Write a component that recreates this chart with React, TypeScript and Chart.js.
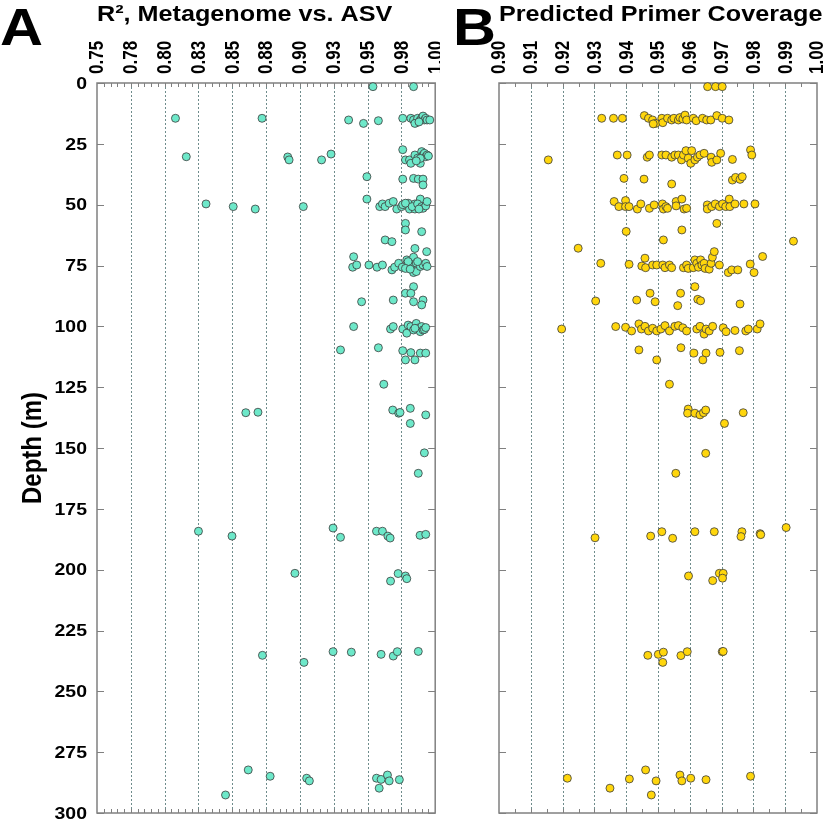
import React, { useEffect, useRef } from 'react';
import { Chart, registerables } from 'chart.js';

Chart.register(...registerables);

// ---------- axis definitions ----------
const depthTicks = [0, 25, 50, 75, 100, 125, 150, 175, 200, 225, 250, 275, 300];
const depthTickLabels = ['0', '25', '50', '75', '100', '125', '150', '175', '200', '225', '250', '275', '300'];

const r2TickValues = [0.75, 0.775, 0.8, 0.825, 0.85, 0.875, 0.9, 0.925, 0.95, 0.975, 1.0];
const r2TickLabels = ['0.75', '0.78', '0.80', '0.83', '0.85', '0.88', '0.90', '0.93', '0.95', '0.98', '1.00'];

const coverageTickValues = [0.9, 0.91, 0.92, 0.93, 0.94, 0.95, 0.96, 0.97, 0.98, 0.99, 1.0];
const coverageTickLabels = ['0.90', '0.91', '0.92', '0.93', '0.94', '0.95', '0.96', '0.97', '0.98', '0.99', '1.00'];

// ---------- panel A : R², Metagenome vs. ASV ----------
const r2Values = [
  0.954, 0.984,
  0.808, 0.872, 0.936, 0.947, 0.958, 0.976, 0.982, 0.984, 0.986, 0.987, 0.989, 0.990, 0.991, 0.992, 0.993, 0.994, 0.996, 0.985, 0.988,
  0.816, 0.891, 0.892, 0.916, 0.923, 0.976, 0.978, 0.981, 0.982, 0.985, 0.987, 0.989, 0.990, 0.991, 0.992, 0.993, 0.994, 0.995, 0.989, 0.986,
  0.9495, 0.976, 0.984, 0.9875, 0.991, 0.991,
  0.9495, 0.989,
  0.8306, 0.8507, 0.867, 0.9025, 0.959, 0.961, 0.963, 0.966, 0.969, 0.9716, 0.9752, 0.980, 0.981, 0.985, 0.985, 0.976, 0.978, 0.983, 0.987, 0.990, 0.991, 0.993, 0.994, 0.988,
  0.978, 0.978, 0.990, 0.963, 0.968, 0.985, 0.9937, 0.9397,
  0.939, 0.942, 0.951, 0.957, 0.961, 0.968, 0.970, 0.973, 0.9757, 0.979, 0.9826, 0.984, 0.984, 0.986, 0.980, 0.986, 0.989, 0.991, 0.993, 0.994, 0.987, 0.978, 0.9815,
  0.984, 0.978, 0.982, 0.9456, 0.969, 0.984, 0.991, 0.990,
  0.9397, 0.967, 0.969, 0.976, 0.979, 0.980, 0.982, 0.984, 0.986, 0.987, 0.989, 0.990, 0.991, 0.992, 0.985, 0.993,
  0.930, 0.958, 0.976, 0.982, 0.978, 0.985, 0.989, 0.993,
  0.962,
  0.860, 0.869, 0.9686, 0.973, 0.974, 0.9816, 0.993, 0.9816,
  0.992, 0.9875,
  0.825, 0.8498, 0.9245, 0.930, 0.9566, 0.961, 0.965, 0.9667, 0.9888, 0.993,
  0.8963, 0.967, 0.9726, 0.978, 0.979,
  0.8723, 0.903, 0.9245, 0.938, 0.960, 0.969, 0.972, 0.9875,
  0.8618, 0.878, 0.845, 0.905, 0.907, 0.9566, 0.9586, 0.960, 0.9647, 0.966, 0.9735,
];
const r2Depths = [
  1.5, 1.5,
  14.5, 14.5, 15.2, 16.6, 15.5, 14.5, 14.5, 15.2, 16.3, 14.5, 15.2, 14.5, 13.6, 15.2, 14.5, 15.2, 15.2, 16.6, 16.0,
  30.3, 30.4, 31.6, 31.6, 29.2, 27.4, 31.6, 31.6, 33.0, 29.6, 30.9, 33.0, 28.2, 29.6, 28.9, 30.3, 29.6, 30.0, 31.0, 32.0,
  38.5, 39.5, 39.2, 39.5, 39.5, 41.9,
  47.7, 47.7,
  49.7, 50.8, 51.8, 50.8, 50.8, 49.7, 50.8, 49.4, 48.7, 51.8, 50.8, 49.4, 51.8, 49.7, 51.8, 50.0, 49.4, 50.8, 49.7, 50.8, 51.5, 50.5, 48.7, 51.8,
  57.7, 60.4, 61.1, 64.5, 65.2, 68.0, 69.3, 71.4,
  75.7, 74.8, 74.8, 75.7, 74.8, 76.8, 75.7, 74.1, 75.7, 72.7, 74.8, 71.6, 77.9, 74.0, 73.4, 77.5, 75.4, 74.8, 74.1, 75.4, 73.4, 76.2, 76.5,
  83.7, 86.4, 86.4, 89.9, 89.2, 89.9, 89.2, 91.2,
  100.1, 101.1, 100.1, 101.1, 102.8, 99.5, 100.1, 101.5, 98.8, 100.8, 102.2, 100.1, 101.5, 101.3, 100.8, 100.5,
  109.7, 108.8, 110.0, 110.8, 113.8, 113.8, 111.0, 111.0,
  123.8,
  135.5, 135.3, 134.4, 135.7, 135.4, 133.7, 136.4, 139.9,
  152.0, 160.4,
  184.2, 186.2, 182.9, 186.7, 184.2, 184.2, 186.2, 187.0, 185.9, 185.5,
  201.5, 204.7, 201.6, 202.6, 203.7,
  235.2, 238.1, 233.7, 233.9, 234.8, 235.5, 233.7, 233.6,
  282.3, 284.9, 292.6, 285.7, 286.8, 285.7, 289.8, 286.2, 284.4, 286.8, 286.3,
];

// ---------- panel B : Predicted Primer Coverage ----------
const coverageValues = [
  0.9656, 0.9681, 0.9702,
  0.9323, 0.936, 0.9388, 0.9457, 0.947, 0.9483, 0.9493, 0.9512, 0.9515, 0.953, 0.9543, 0.955, 0.9564, 0.9569, 0.9578, 0.9585, 0.959, 0.9611, 0.962, 0.964, 0.9653, 0.9666, 0.9685, 0.9702, 0.9723, 0.9485,
  0.9155, 0.9372, 0.9403, 0.9466, 0.9473, 0.9512, 0.9525, 0.9543, 0.9553, 0.9564, 0.9574, 0.958, 0.9588, 0.9595, 0.9603, 0.9606, 0.9616, 0.9624, 0.9632, 0.9645, 0.9667, 0.9669, 0.9685, 0.9697, 0.9734, 0.9791, 0.9795,
  0.9393, 0.9456, 0.9543, 0.9734, 0.9744, 0.9758, 0.9765,
  0.9362, 0.9377, 0.9398, 0.9398, 0.9409, 0.9435, 0.9446, 0.9473, 0.9488, 0.9514, 0.9517, 0.9525, 0.953, 0.9557, 0.9557, 0.9575, 0.9582, 0.959, 0.9655, 0.9655, 0.9669, 0.968, 0.9693, 0.9703, 0.9713, 0.9724, 0.9726, 0.9742, 0.977, 0.9805,
  0.9685, 0.94, 0.9575, 0.9517, 0.9249, 0.9926,
  0.932, 0.9409, 0.9449, 0.9459, 0.9461, 0.9483, 0.9496, 0.9515, 0.9522, 0.9536, 0.9543, 0.958, 0.959, 0.9595, 0.9611, 0.9616, 0.9622, 0.9627, 0.9634, 0.9638, 0.9645, 0.9648, 0.9661, 0.9667, 0.9671, 0.9677, 0.9693, 0.9721, 0.9732, 0.9751, 0.979, 0.9802, 0.9829,
  0.9616, 0.9475, 0.9571, 0.9304, 0.9433, 0.9491, 0.9625, 0.9634, 0.9562, 0.9758,
  0.9197, 0.9367, 0.9398, 0.9417, 0.944, 0.9448, 0.9459, 0.947, 0.9483, 0.9496, 0.9509, 0.9522, 0.9536, 0.9553, 0.9564, 0.9578, 0.959, 0.9622, 0.9632, 0.9645, 0.9651, 0.9661, 0.9672, 0.9705, 0.9714, 0.9742, 0.9776, 0.9784, 0.9812, 0.9821,
  0.944, 0.9572, 0.9613, 0.9651, 0.9695, 0.9756, 0.9496, 0.9641,
  0.9536,
  0.9595, 0.9593, 0.9616, 0.9632, 0.9643, 0.965, 0.9768, 0.9709,
  0.965, 0.9556,
  0.9302, 0.9477, 0.9512, 0.9546, 0.9616, 0.9677, 0.9764, 0.9761, 0.9821, 0.9823, 0.9903,
  0.9596, 0.9693, 0.9705, 0.9703, 0.9672,
  0.9468, 0.9501, 0.9517, 0.9515, 0.9572, 0.9592, 0.9702, 0.9705,
  0.9215, 0.9349, 0.941, 0.9461, 0.9494, 0.9479, 0.9569, 0.9575, 0.9603, 0.9651, 0.9791,
];
const coverageDepths = [
  1.5, 1.5, 1.5,
  14.5, 14.5, 14.5, 13.4, 14.5, 15.2, 16.6, 14.5, 16.3, 14.5, 15.2, 14.5, 15.2, 14.2, 14.8, 13.2, 15.2, 14.5, 15.5, 14.5, 15.2, 15.2, 13.4, 14.5, 15.2, 16.8,
  31.6, 29.6, 29.6, 30.5, 29.6, 29.6, 29.6, 30.5, 29.6, 29.6, 31.6, 29.6, 27.8, 30.9, 33.0, 27.8, 31.6, 30.5, 29.6, 28.9, 30.5, 32.6, 31.6, 28.9, 31.4, 27.5, 29.6,
  39.2, 39.5, 41.5, 39.9, 38.8, 39.6, 38.5,
  48.7, 50.8, 48.3, 50.8, 50.8, 51.8, 49.7, 51.5, 50.1, 49.7, 51.8, 50.8, 51.5, 48.7, 50.5, 47.7, 51.8, 51.5, 50.1, 51.8, 50.8, 49.7, 50.8, 49.7, 50.8, 47.7, 50.8, 49.7, 49.7, 49.7,
  57.7, 61.0, 60.4, 64.5, 67.9, 65.0,
  74.1, 74.5, 75.2, 72.0, 75.9, 74.8, 74.8, 74.8, 75.9, 74.8, 75.9, 75.9, 74.8, 76.2, 75.9, 72.7, 74.1, 75.7, 72.7, 74.8, 74.1, 76.2, 76.5, 74.1, 71.6, 69.3, 74.8, 77.9, 76.8, 76.8, 74.4, 77.9, 71.3,
  83.7, 86.4, 86.4, 89.6, 89.2, 89.9, 88.9, 89.5, 91.5, 90.8,
  101.1, 100.1, 100.4, 101.9, 99.0, 101.1, 100.0, 101.9, 100.8, 101.9, 101.1, 99.7, 101.9, 100.0, 99.7, 100.6, 101.9, 101.1, 100.0, 103.2, 101.1, 101.9, 100.0, 100.6, 102.2, 101.7, 101.9, 101.1, 101.1, 99.0,
  109.7, 108.8, 111.0, 111.0, 110.7, 110.0, 113.8, 113.8,
  123.8,
  134.0, 135.7, 135.7, 136.4, 135.5, 134.4, 135.5, 139.9,
  152.2, 160.4,
  186.9, 186.2, 184.4, 187.1, 184.4, 184.4, 184.4, 186.4, 185.2, 185.6, 182.7,
  202.6, 201.5, 201.5, 203.5, 204.5,
  235.2, 234.8, 233.9, 238.1, 235.3, 233.7, 233.7, 233.6,
  285.7, 289.8, 286.0, 282.3, 286.8, 292.6, 284.4, 286.8, 285.7, 286.3, 284.9,
];

const FONT = '"Liberation Sans", Arial, Helvetica, sans-serif';
const STRETCH = 1.145; // the reference lettering is slightly wider than tall

function drawText(
  ctx: CanvasRenderingContext2D,
  text: string,
  x: number,
  y: number,
  font: string,
  align: CanvasTextAlign,
  baseline: CanvasTextBaseline,
  rotation: number
) {
  ctx.save();
  ctx.translate(x, y);
  ctx.scale(STRETCH, 1);
  ctx.rotate(rotation);
  ctx.font = font;
  ctx.textAlign = align;
  ctx.textBaseline = baseline;
  ctx.fillStyle = '#000';
  ctx.fillText(text, 0, 0);
  ctx.restore();
}

const panelPlugin = {
  id: 'panelDecor',
  beforeDatasetsDraw(chart: any, _args: any, opts: any) {
    const { ctx, chartArea } = chart;
    const { left, right, top, bottom } = chartArea;
    const x = chart.scales.x;
    const y = chart.scales.y;
    ctx.save();
    // dashed vertical grid lines
    ctx.strokeStyle = opts.gridColor;
    ctx.lineWidth = 1;
    ctx.setLineDash([2, 2]);
    for (const v of opts.gridValues) {
      const px = Math.round(x.getPixelForValue(v)) + 0.5;
      if (px <= left + 2 || px >= right - 2) continue;
      ctx.beginPath();
      ctx.moveTo(px, top);
      ctx.lineTo(px, bottom);
      ctx.stroke();
    }
    ctx.setLineDash([]);
    // frame
    ctx.strokeStyle = '#808080';
    ctx.lineWidth = 1.5;
    ctx.strokeRect(left, top, right - left, bottom - top);
    // minor ticks top & bottom
    ctx.lineWidth = 1;
    const n = Math.round((opts.max - opts.min) / opts.minorStep);
    for (let i = 1; i < n; i++) {
      const px = Math.round(x.getPixelForValue(opts.min + i * opts.minorStep)) + 0.5;
      ctx.beginPath();
      ctx.moveTo(px, top);
      ctx.lineTo(px, top + 4);
      ctx.moveTo(px, bottom);
      ctx.lineTo(px, bottom - 4);
      ctx.stroke();
    }
    // major depth ticks left & right
    for (const d of depthTicks) {
      const py = Math.round(y.getPixelForValue(d)) + 0.5;
      ctx.beginPath();
      ctx.moveTo(left, py);
      ctx.lineTo(left + 7, py);
      ctx.moveTo(right, py);
      ctx.lineTo(right - 7, py);
      ctx.stroke();
    }
    ctx.restore();
  },
  afterDraw(chart: any, _args: any, opts: any) {
    const { ctx, chartArea } = chart;
    const x = chart.scales.x;
    const y = chart.scales.y;
    // panel title and letter
    drawText(ctx, opts.title, chartArea.left, 21, `bold 22px ${FONT}`, 'left', 'alphabetic', 0);
    drawText(ctx, opts.letter, opts.letterX, 45, `bold 52px ${FONT}`, 'left', 'alphabetic', 0);
    // top tick labels, rotated
    opts.tickValues.forEach((v: number, i: number) => {
      const px = x.getPixelForValue(v);
      drawText(ctx, opts.tickLabels[i], px + 1, chartArea.top - 9, `bold 17px ${FONT}`, 'left', 'middle', -Math.PI / 2);
    });
    if (opts.showDepthLabels) {
      depthTicks.forEach((d, i) => {
        const py = y.getPixelForValue(d);
        drawText(ctx, depthTickLabels[i], chartArea.left - 10, py + 1, `bold 17px ${FONT}`, 'right', 'middle', 0);
      });
      drawText(ctx, 'Depth (m)', 33, (chartArea.top + chartArea.bottom) / 2, `bold 24px ${FONT}`, 'center', 'middle', -Math.PI / 2);
    }
  },
};

function buildConfig(p: {
  values: number[];
  depths: number[];
  tickValues: number[];
  tickLabels: string[];
  min: number;
  max: number;
  minorStep: number;
  fill: string;
  yWidth: number;
  padRight: number;
  showDepthLabels: boolean;
  title: string;
  letter: string;
  letterX: number;
}): any {
  const data = p.values.map((v, i) => ({ x: v, y: p.depths[i] }));
  return {
    type: 'scatter',
    data: {
      datasets: [
        {
          data,
          backgroundColor: p.fill,
          borderColor: '#3c3c3c',
          borderWidth: 0.8,
          pointRadius: 4,
          pointHoverRadius: 4,
          clip: false,
        },
      ],
    },
    options: {
      animation: false,
      responsive: false,
      maintainAspectRatio: false,
      events: [],
      layout: { padding: { left: 0, right: p.padRight, top: 0, bottom: 10 } },
      plugins: {
        legend: { display: false },
        tooltip: { enabled: false },
        title: { display: false },
        panelDecor: {
          gridValues: p.tickValues,
          tickValues: p.tickValues,
          tickLabels: p.tickLabels,
          gridColor: '#6f8c8c',
          min: p.min,
          max: p.max,
          minorStep: p.minorStep,
          title: p.title,
          letter: p.letter,
          letterX: p.letterX,
          showDepthLabels: p.showDepthLabels,
        },
      },
      scales: {
        x: {
          type: 'linear',
          position: 'top',
          min: p.min,
          max: p.max,
          grid: { display: false, drawTicks: false },
          border: { display: false },
          afterBuildTicks: (s: any) => {
            s.ticks = p.tickValues.map((v) => ({ value: v }));
          },
          afterFit: (s: any) => {
            s.height = 83;
            s.paddingLeft = 0;
            s.paddingRight = 0;
          },
          ticks: { display: false },
        },
        y: {
          type: 'linear',
          position: 'left',
          reverse: true,
          min: 0,
          max: 300,
          grid: { display: false, drawTicks: false },
          border: { display: false },
          afterBuildTicks: (s: any) => {
            s.ticks = depthTicks.map((v) => ({ value: v }));
          },
          afterFit: (s: any) => {
            s.width = p.yWidth;
            s.paddingTop = 0;
            s.paddingBottom = 0;
          },
          ticks: { display: false },
          title: { display: false },
        },
      },
    },
    plugins: [panelPlugin],
  };
}

export default function App() {
  const refA = useRef<HTMLCanvasElement | null>(null);
  const refB = useRef<HTMLCanvasElement | null>(null);

  useEffect(() => {
    const chartA = new Chart(
      refA.current as HTMLCanvasElement,
      buildConfig({
        values: r2Values,
        depths: r2Depths,
        tickValues: r2TickValues,
        tickLabels: r2TickLabels,
        min: 0.75,
        max: 1.0,
        minorStep: 0.005,
        fill: '#6de8c9',
        yWidth: 97,
        padRight: 3,
        showDepthLabels: true,
        title: 'R², Metagenome vs. ASV',
        letter: 'A',
        letterX: 0,
      })
    );
    const chartB = new Chart(
      refB.current as HTMLCanvasElement,
      buildConfig({
        values: coverageValues,
        depths: coverageDepths,
        tickValues: coverageTickValues,
        tickLabels: coverageTickLabels,
        min: 0.9,
        max: 1.0,
        minorStep: 0.005,
        fill: '#ffd60c',
        yWidth: 59,
        padRight: 13,
        showDepthLabels: false,
        title: 'Predicted Primer Coverage',
        letter: 'B',
        letterX: 13,
      })
    );
    return () => {
      chartA.destroy();
      chartB.destroy();
    };
  }, []);

  return (
    <div style={{ position: 'fixed', left: 0, top: 0, width: 830, height: 823, background: '#fff' }}>
      <canvas ref={refA} width={440} height={823} style={{ position: 'absolute', left: 0, top: 0, width: 440, height: 823 }} />
      <canvas ref={refB} width={390} height={823} style={{ position: 'absolute', left: 440, top: 0, width: 390, height: 823 }} />
    </div>
  );
}
